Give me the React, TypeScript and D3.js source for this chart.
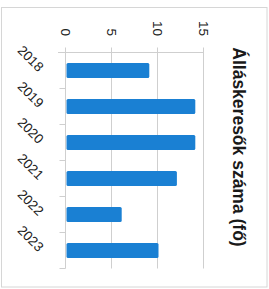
import React from "react";
import * as d3 from "d3";

const years = ["2018", "2019", "2020", "2021", "2022", "2023"];
const jobSeekers = [9, 14, 14, 12, 6, 10];
const valueTicks = [0, 5, 10, 15];
const title = "Álláskeresők száma (fő)";

const W = 269;
const H = 289;
const FONT = "'Liberation Sans', Arial, sans-serif";

export default function App() {
  // The chart is drawn rotated by 90°: categories run top→bottom, values left→right.
  const y = d3.scaleBand<string>().domain(years).range([52.5, 268.5]).paddingInner(0.58).paddingOuter(0.29);
  const x = d3.scaleLinear().domain([0, 15]).range([65.5, 203.5]);
  const step = y.step();
  const boundaries = d3.range(years.length + 1).map((i) => 52.5 + i * step);

  return (
    <svg width={W} height={H} style={{ position: "absolute", left: 0, top: 0, background: "#fff" }}>
      <rect x={1.5} y={7.5} width={265.5} height={279.5} fill="#fff" stroke="#d6d6d6" strokeWidth={1} />
      {valueTicks.map((t) => (
        <line key={"g" + t} x1={x(t)} x2={x(t)} y1={47.5} y2={268.5} stroke="#cfcfcf" strokeWidth={1} />
      ))}
      <line x1={58} x2={x(15)} y1={52.5} y2={52.5} stroke="#cfcfcf" strokeWidth={1} />
      {boundaries.map((b, i) => (
        <line key={"t" + i} x1={59.5} x2={65.5} y1={b} y2={b} stroke="#cfcfcf" strokeWidth={1} />
      ))}
      {years.map((yr, i) => (
        <rect
          key={yr}
          x={x(0) + 1}
          y={y(yr)!}
          width={x(jobSeekers[i]) - x(0)}
          height={y.bandwidth()}
          rx={1.5}
          fill="#1a80d3"
        />
      ))}
      {valueTicks.map((t) => (
        <text
          key={"l" + t}
          transform={`translate(${x(t)},36) rotate(90)`}
          textAnchor="end"
          dy="0.35em"
          fontFamily={FONT}
          fontSize={13.5}
          fill="#222"
        >
          {t}
        </text>
      ))}
      {years.map((yr) => (
        <text
          key={"c" + yr}
          transform={`translate(38,${y(yr)! + y.bandwidth() / 2 + 2}) rotate(45)`}
          textAnchor="end"
          fontFamily={FONT}
          fontSize={13.5}
          fill="#222"
        >
          {yr}
        </text>
      ))}
      <text
        transform={`translate(233,147) rotate(90)`}
        textAnchor="middle"
        fontFamily={FONT}
        fontSize={17.5}
        fontWeight="bold"
        fill="#1a1a1a"
      >
        {title}
      </text>
    </svg>
  );
}
